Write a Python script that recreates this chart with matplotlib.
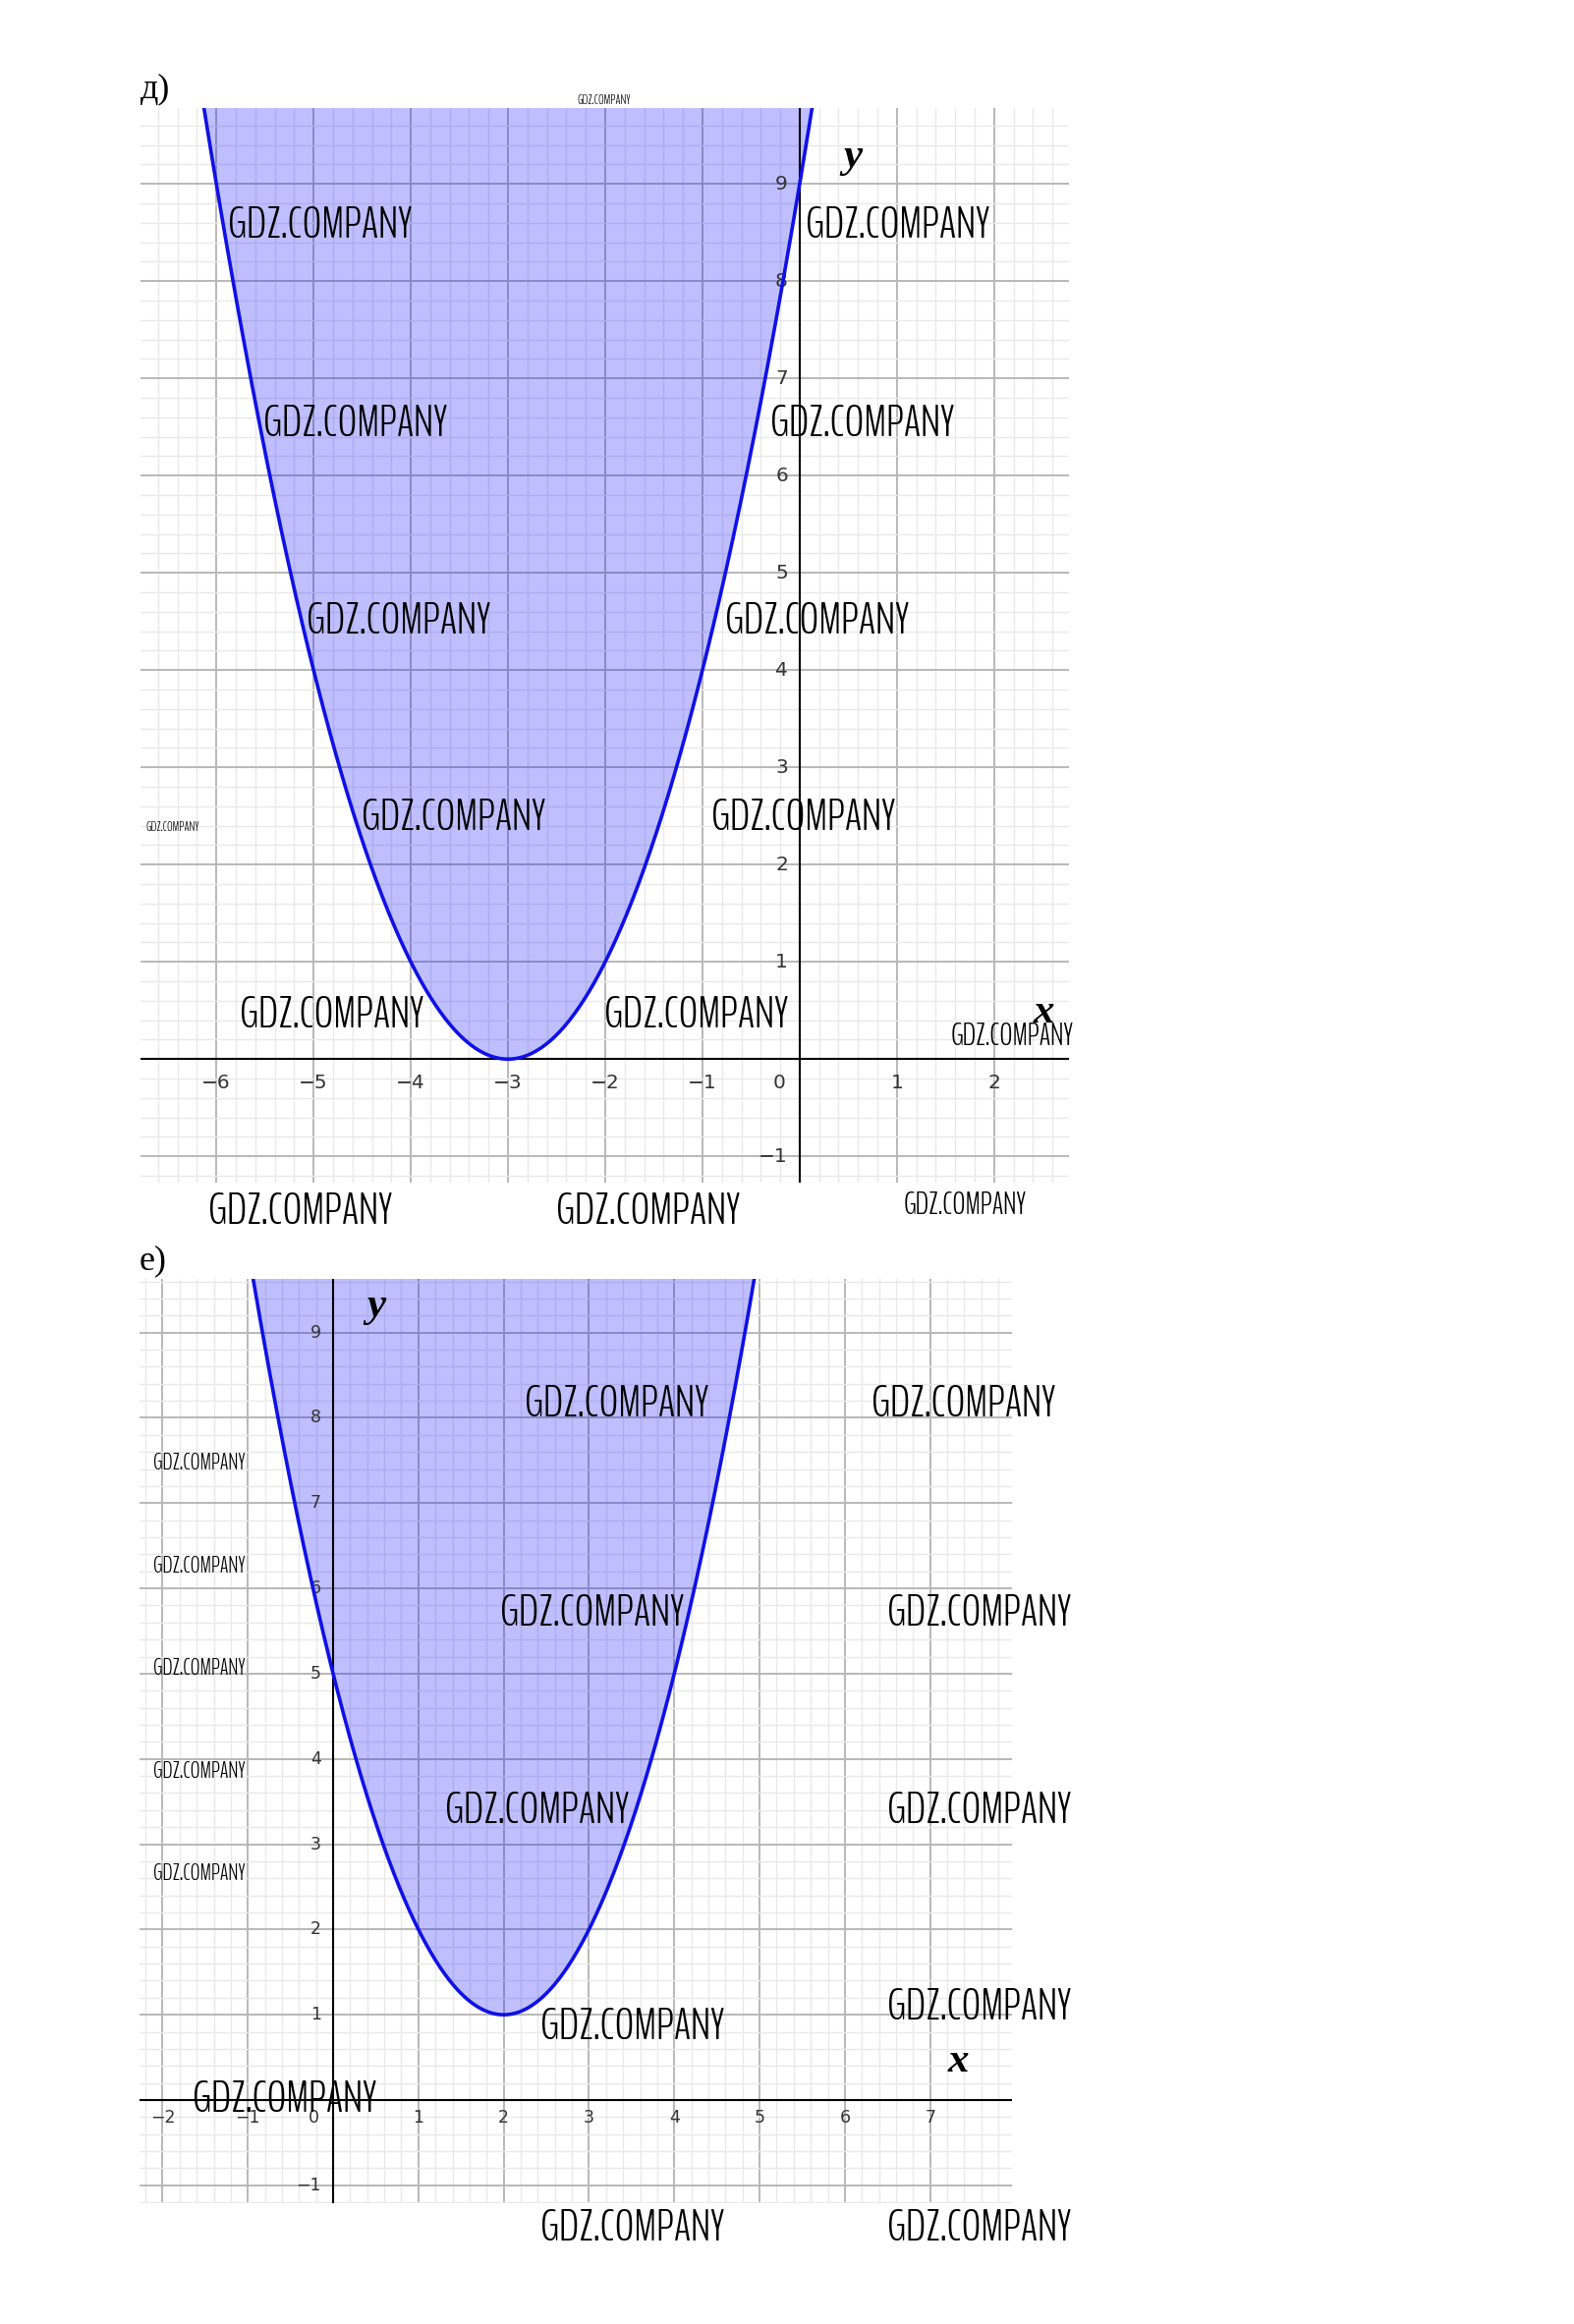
"""
Два графика парабол (д, е) с заливкой области над кривой, в стиле GeoGebra.
"""

import matplotlib
matplotlib.use("Agg")
import matplotlib.pyplot as plt
import numpy as np


W, H = 1602, 2366

# параметры парабол y = (x - h)^2 + k
TOP_VERTEX = (-3, 0)
BOTTOM_VERTEX = (2, 1)

TOP_XLIM = (-6.78, 2.77)
TOP_YLIM = (-1.27, 9.78)
BOTTOM_XLIM = (-2.27, 7.96)
BOTTOM_YLIM = (-1.21, 9.63)

TOP_XTICKS = [-6, -5, -4, -3, -2, -1, 1, 2]
TOP_YTICKS = [-1, 1, 2, 3, 4, 5, 6, 7, 8, 9]
BOTTOM_XTICKS = [-2, -1, 1, 2, 3, 4, 5, 6, 7]
BOTTOM_YTICKS = [-1, 1, 2, 3, 4, 5, 6, 7, 8, 9]

# водяные знаки: (левый край px, базовая линия px, размер)
WM_TOP = [
    (232, 242, 33), (820, 242, 33), (268, 444, 33), (784, 444, 33),
    (312, 645, 33), (738, 645, 33), (368, 845, 33), (724, 845, 33),
    (244, 1046, 33), (615, 1046, 33), (968, 1064, 22),
    (212, 1246, 33), (566, 1246, 33), (920, 1236, 22),
    (587, 106, 9.5), (148, 846, 9.5),
]
WM_BOTTOM = [
    (534, 1442, 33), (887, 1442, 33), (509, 1655, 33), (903, 1655, 33),
    (453, 1856, 33), (903, 1856, 33), (550, 2076, 33), (903, 2056, 33),
    (196, 2150, 33), (550, 2281, 33), (903, 2281, 33),
    (156, 1496, 16.5), (156, 1601, 16.5), (156, 1705, 16.5),
    (156, 1810, 16.5), (156, 1914, 16.5),
]

WM_FONT = ["BenchNine", "DejaVu Sans"]


def px_axes(fig, left, top, right, bottom):
    return fig.add_axes([left / W, 1 - bottom / H, (right - left) / W, (bottom - top) / H])


def draw_panel(ax, vertex, xlim, ylim, xticks, yticks, fs, xoff, yoff):
    ax.set_xlim(*xlim)
    ax.set_ylim(*ylim)
    ax.set_xticks(np.arange(np.ceil(xlim[0]), xlim[1] + 0.01, 1))
    ax.set_yticks(np.arange(np.ceil(ylim[0]), ylim[1] + 0.01, 1))
    ax.set_xticks(np.arange(np.ceil(xlim[0] * 5) / 5, xlim[1], 0.2), minor=True)
    ax.set_yticks(np.arange(np.ceil(ylim[0] * 5) / 5, ylim[1], 0.2), minor=True)
    ax.grid(which="major", color="#b8b8b8", lw=1.4, zorder=0)
    ax.grid(which="minor", color="#e9e9e9", lw=1.0, zorder=0)
    ax.tick_params(which="both", length=0, labelbottom=False, labelleft=False)
    for s in ax.spines.values():
        s.set_visible(False)
    ax.set_axisbelow(True)

    h, k = vertex
    x = np.linspace(xlim[0], xlim[1], 800)
    y = (x - h) ** 2 + k
    ax.fill_between(x, y, ylim[1] + 5, color="blue", alpha=0.25, lw=0, zorder=2)
    ax.plot(x, y, color="#1010e6", lw=2.6, zorder=4)

    ax.axhline(0, color="black", lw=1.5, zorder=3)
    ax.axvline(0, color="black", lw=1.5, zorder=3)

    for v in xticks:
        ax.annotate(str(v).replace("-", "\u2212"), (v, 0), xytext=(0, -xoff),
                    textcoords="offset pixels", ha="center", va="center",
                    fontsize=fs, color="#333333")
    ax.annotate("0", (0, 0), xytext=(-yoff - 2, -xoff), textcoords="offset pixels",
                ha="right", va="center", fontsize=fs, color="#333333")
    for v in yticks:
        ax.annotate(str(v).replace("-", "\u2212"), (0, v), xytext=(-yoff, 0),
                    textcoords="offset pixels", ha="right", va="center",
                    fontsize=fs, color="#333333")


fig = plt.figure(figsize=(W / 100, H / 100), dpi=100)
fig.patch.set_facecolor("white")

ax1 = px_axes(fig, 143, 110, 1088, 1204)
draw_panel(ax1, TOP_VERTEX, TOP_XLIM, TOP_YLIM, TOP_XTICKS, TOP_YTICKS, 14.5, 24, 12)

ax2 = px_axes(fig, 142, 1302, 1030, 2243)
draw_panel(ax2, BOTTOM_VERTEX, BOTTOM_XLIM, BOTTOM_YLIM, BOTTOM_XTICKS, BOTTOM_YTICKS, 12.5, 18, 12)

# подписи пунктов
fig.text(143 / W, 1 - 99 / H, "д)", fontsize=26, family="Liberation Serif", va="baseline")
fig.text(142 / W, 1 - 1292 / H, "е)", fontsize=26, family="Liberation Serif", va="baseline")

# подписи осей
lab = dict(family="Liberation Serif", style="italic", weight="bold", ha="center", va="center")
fig.text(868 / W, 1 - 160 / H, "y", fontsize=31, **lab)
fig.text(1062 / W, 1 - 1031 / H, "x", fontsize=31, **lab)
fig.text(383 / W, 1 - 1330 / H, "y", fontsize=31, **lab)
fig.text(975 / W, 1 - 2099 / H, "x", fontsize=31, **lab)

for xl, yb, sz in WM_TOP + WM_BOTTOM:
    fig.text(xl / W, 1 - yb / H, "GDZ.COMPANY", fontsize=sz, family=WM_FONT,
             weight=300, color="black", ha="left", va="baseline", zorder=10)

fig.savefig("out.png", dpi=100, facecolor="white")
